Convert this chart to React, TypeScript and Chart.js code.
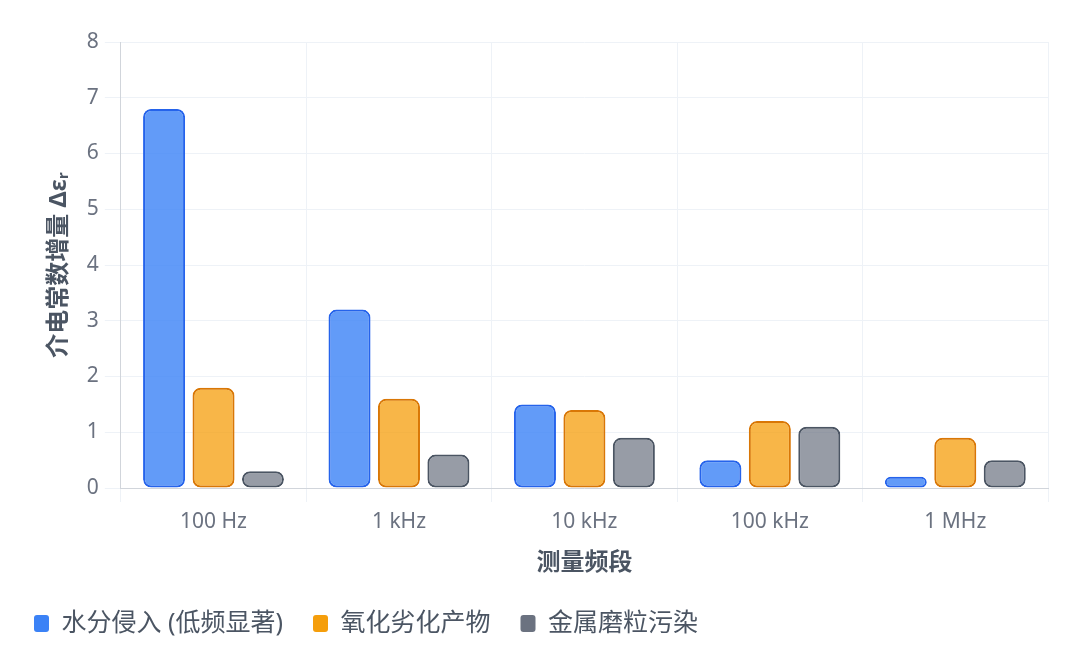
import { useEffect, useRef } from 'react'
import { Chart, registerables } from 'chart.js'

Chart.register(...registerables)

const categories = ['100 Hz', '1 kHz', '10 kHz', '100 kHz', '1 MHz']
const seriesNames = ['水分侵入 (低频显著)', '氧化劣化产物', '金属磨粒污染']
const waterValues = [6.8, 3.2, 1.5, 0.5, 0.2]
const oxidationValues = [1.8, 1.6, 1.4, 1.2, 0.9]
const metalValues = [0.3, 0.6, 0.9, 1.1, 0.5]

const FONT = '"Noto Sans", "Noto Sans CJK SC", sans-serif'
const solidColors = ['#3b82f6', '#f59e0b', '#6b7280']

export default function App() {
  const canvasRef = useRef<HTMLCanvasElement>(null)

  useEffect(() => {
    document.body.style.margin = '0'
    if (!canvasRef.current) return
    const ctx = canvasRef.current.getContext('2d')
    if (!ctx) return

    const chart = new Chart(ctx, {
      type: 'bar',
      data: {
        labels: categories,
        datasets: [
          {
            label: seriesNames[0],
            data: waterValues,
            backgroundColor: 'rgba(59, 130, 246, 0.8)',
            borderColor: '#2563eb',
          },
          {
            label: seriesNames[1],
            data: oxidationValues,
            backgroundColor: 'rgba(245, 158, 11, 0.75)',
            borderColor: '#d97706',
          },
          {
            label: seriesNames[2],
            data: metalValues,
            backgroundColor: 'rgba(107, 114, 128, 0.7)',
            borderColor: '#4b5563',
          },
        ].map(ds => ({
          ...ds,
          borderWidth: 2,
          borderRadius: 8,
          borderSkipped: false,
          barPercentage: 0.85,
          categoryPercentage: 0.8,
        })),
      },
      options: {
        responsive: true,
        maintainAspectRatio: false,
        animation: false,
        layout: { padding: { top: 42, right: 32, left: 4, bottom: 19 } },
        scales: {
          x: {
            grid: { color: '#eef2f7', tickLength: 14 },
            border: { color: '#d1d5db' },
            ticks: { color: '#6b7280', font: { family: FONT, size: 21 }, padding: 7 },
            title: {
              display: true,
              text: '测量频段',
              color: '#4b5563',
              font: { family: FONT, size: 24, weight: 'bold' },
              padding: { top: 8, bottom: 3 },
            },
          },
          y: {
            min: 0,
            max: 8,
            grid: { color: '#eef2f7', tickLength: 16 },
            border: { color: '#d1d5db' },
            ticks: { stepSize: 1, color: '#6b7280', font: { family: FONT, size: 21 }, padding: 6 },
            title: {
              display: true,
              text: '介电常数增量 Δεᵣ',
              color: '#4b5563',
              font: { family: FONT, size: 24, weight: 'bold' },
              padding: { top: 41, bottom: 7 },
            },
          },
        },
        plugins: {
          legend: {
            position: 'bottom',
            align: 'start',
            labels: {
              boxWidth: 15,
              boxHeight: 17,
              useBorderRadius: true,
              borderRadius: 3,
              padding: 30,
              color: '#4b5563',
              font: { family: FONT, size: 25 },
              generateLabels: (c: Chart) =>
                c.data.datasets.map((ds, i) => ({
                  text: ds.label as string,
                  fillStyle: solidColors[i],
                  strokeStyle: solidColors[i],
                  lineWidth: 0,
                  hidden: !c.isDatasetVisible(i),
                  datasetIndex: i,
                  fontColor: '#4b5563',
                  borderRadius: 3,
                })),
            },
          },
          tooltip: { enabled: false },
        },
      },
    })

    return () => {
      chart.destroy()
    }
  }, [])

  return (
    <div style={{ width: '1080px', height: '665px', position: 'relative', background: '#fff' }}>
      <canvas ref={canvasRef}></canvas>
    </div>
  )
}
